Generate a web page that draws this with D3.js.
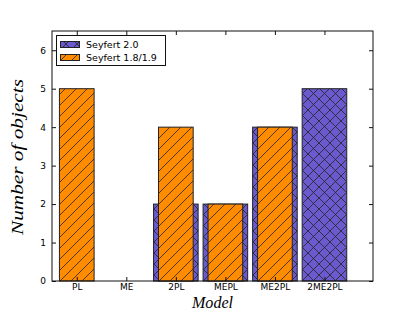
<!DOCTYPE html>
<html><head><meta charset="utf-8">
<script src="https://cdn.jsdelivr.net/npm/d3@7"></script>
<style>body{margin:0;background:#fff}svg{display:block}</style>
</head><body>
<script>
const categories = ["PL","ME","2PL","MEPL","ME2PL","2ME2PL"];
const seyfert2 = [0,0,2,2,4,5];
const seyfert189 = [5,0,4,2,4,0];
const yTicks = [0,1,2,3,4,5,6];
const seriesNames = ["Seyfert 2.0","Seyfert 1.8/1.9"];

const W=415,H=312;
const L=52,R=373,T=31,B=281;
const svg=d3.select("body").append("svg").attr("width",W).attr("height",H);
const defs=svg.append("defs");
const P=11;
function pat(id,fill,cross){
  const p=defs.append("pattern").attr("id",id).attr("patternUnits","userSpaceOnUse")
    .attr("width",P).attr("height",P);
  p.append("rect").attr("width",P).attr("height",P).attr("fill",fill);
  let d=`M0,${P} L${P},0 M-1,1 L1,-1 M${P-1},${P+1} L${P+1},${P-1}`;
  if(cross) d+=` M0,0 L${P},${P} M-1,${P-1} L1,${P+1} M${P-1},-1 L${P+1},1`;
  p.append("path").attr("d",d).attr("stroke","#222").attr("stroke-width",0.8).attr("fill","none");
}
pat("hx","#6a5acd",true);
pat("hs","#ff8c00",false);

const x=d3.scaleLinear().domain([-0.5,5.98]).range([L,R]);
const y=d3.scaleLinear().domain([0,6.5]).range([B,T]);
const step=x(1)-x(0);

const g=svg.append("g");
g.selectAll(".b2").data(seyfert2.map((v,i)=>({v,i}))).enter().filter(d=>d.v>0)
  .append("rect").attr("x",d=>x(d.i)-step*0.45).attr("width",step*0.9)
  .attr("y",d=>y(d.v)).attr("height",d=>y(0)-y(d.v))
  .attr("fill","url(#hx)").attr("stroke","#222").attr("stroke-width",1);
g.selectAll(".b1").data(seyfert189.map((v,i)=>({v,i}))).enter().filter(d=>d.v>0)
  .append("rect").attr("x",d=>x(d.i)-step*0.35).attr("width",step*0.7)
  .attr("y",d=>y(d.v)).attr("height",d=>y(0)-y(d.v))
  .attr("fill","url(#hs)").attr("stroke","#222").attr("stroke-width",1);

// frame
svg.append("rect").attr("x",L).attr("y",T).attr("width",R-L).attr("height",B-T)
  .attr("fill","none").attr("stroke","#111").attr("stroke-width",1);

// axes
const yl=svg.append("g").attr("transform",`translate(${L},0)`)
  .call(d3.axisLeft(y).tickValues(yTicks).tickSize(-4).tickPadding(6).tickFormat(d3.format("d")));
const yr=svg.append("g").attr("transform",`translate(${R},0)`)
  .call(d3.axisRight(y).tickValues(yTicks).tickSize(-4).tickFormat(""));
const xb=svg.append("g").attr("transform",`translate(0,${B})`)
  .call(d3.axisBottom(x).tickValues(d3.range(categories.length)).tickSize(-4).tickPadding(3).tickFormat(i=>categories[i]));
const xt=svg.append("g").attr("transform",`translate(0,${T})`)
  .call(d3.axisTop(x).tickValues(d3.range(categories.length)).tickSize(-4).tickFormat(""));
[yl,yr,xb,xt].forEach(a=>{
  a.select(".domain").remove();
  a.selectAll("line").attr("stroke","#111");
  a.selectAll("text").attr("font-family","DejaVu Sans").attr("font-size","9px").attr("fill","#000");
});

// legend
const lg=svg.append("g");
lg.append("rect").attr("x",56.5).attr("y",35.5).attr("width",109).attr("height",30)
  .attr("fill","#fff").attr("stroke","#111").attr("stroke-width",1);
const fills=["url(#hx)","url(#hs)"];
seriesNames.forEach((n,i)=>{
  const yy=41+i*13;
  lg.append("rect").attr("x",60.5).attr("y",yy+0.5).attr("width",19).attr("height",6)
    .attr("fill",fills[i]).attr("stroke","#222").attr("stroke-width",1);
  lg.append("text").attr("x",86).attr("y",yy+7).text(n)
    .attr("font-family","DejaVu Sans").attr("font-size","9.5px").attr("fill","#000");
});

// axis labels
svg.append("text").attr("x",(L+R)/2).attr("y",308).attr("text-anchor","middle")
  .attr("font-family","Liberation Serif").attr("font-style","italic").attr("font-size","16px")
  .attr("textLength",41).attr("lengthAdjust","spacingAndGlyphs").text("Model");
svg.append("text").attr("transform",`translate(23,${(T+B)/2+1}) rotate(-90)`).attr("text-anchor","middle")
  .attr("font-family","Liberation Serif").attr("font-style","italic").attr("font-size","17px")
  .attr("textLength",156).attr("lengthAdjust","spacingAndGlyphs").text("Number of objects");
</script>
</body></html>
